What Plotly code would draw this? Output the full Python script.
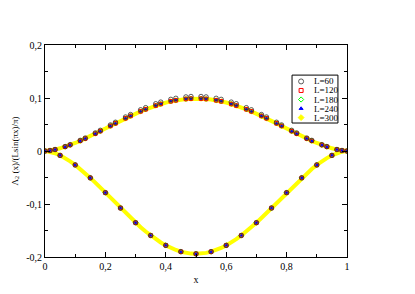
import plotly.graph_objects as go

# ---- data ----
series_names = ["L=60", "L=120", "L=180", "L=240", "L=300"]
x_grid = [k / 60 for k in range(61)]

# upper branch (band, large L) for x = 0 .. 0.5 ; mirrored for 0.5 .. 1
upper_half = [0.0, 0.0009, 0.0027, 0.0051, 0.0080, 0.0114, 0.0151, 0.0192, 0.0235,
              0.0280, 0.0327, 0.0375, 0.0423, 0.0472, 0.0521, 0.0569, 0.0616, 0.0661,
              0.0705, 0.0747, 0.0786, 0.0823, 0.0857, 0.0887, 0.0914, 0.0937, 0.0956,
              0.0971, 0.0981, 0.0988, 0.0990]
# upper branch for L=60 (slightly higher)
upper60_half = [0.0, 0.0009, 0.0028, 0.0053, 0.0083, 0.0119, 0.0157, 0.0200, 0.0244,
                0.0291, 0.0340, 0.0390, 0.0440, 0.0491, 0.0542, 0.0592, 0.0641, 0.0687,
                0.0733, 0.0777, 0.0817, 0.0856, 0.0891, 0.0922, 0.0951, 0.0974, 0.0994,
                0.1010, 0.1020, 0.1028, 0.1030]
# lower branch
lower_half = [0.0, -0.0013, -0.0042, -0.0083, -0.0134, -0.0195, -0.0263, -0.0339,
              -0.0420, -0.0507, -0.0597, -0.0691, -0.0786, -0.0883, -0.0980, -0.1076,
              -0.1171, -0.1264, -0.1353, -0.1438, -0.1519, -0.1594, -0.1664, -0.1726,
              -0.1781, -0.1829, -0.1868, -0.1900, -0.1922, -0.1936, -0.1940]

upper_band = upper_half + upper_half[-2::-1]
upper_60 = upper60_half + upper60_half[-2::-1]
lower_band = lower_half + lower_half[-2::-1]

x_tick_vals = [0, 0.2, 0.4, 0.6, 0.8, 1.0]
x_tick_text = ["0", "0,2", "0,4", "0,6", "0,8", "1"]
y_tick_vals = [-0.2, -0.1, 0, 0.1, 0.2]
y_tick_text = ["-0,2", "-0,1", "0", "0,1", "0,2"]

# ---- figure ----
FONT = "Liberation Serif"
fig = go.Figure()

# L=300 drawn as a dense yellow band (lines) underneath
for branch in (upper_band, lower_band):
    fig.add_trace(go.Scatter(x=x_grid, y=branch, mode="lines",
                             line=dict(color="#ffff00", width=4),
                             showlegend=False, hoverinfo="skip"))


def branch_points(upper):
    xs, ys = [], []
    for k, xv in enumerate(x_grid):
        xs.append(xv)
        ys.append(lower_band[k] if k % 3 == 0 else upper[k])
    return xs, ys


styles = {
    "L=60": dict(symbol="circle-open", color="#333333", size=4.5, lw=0.8),
    "L=120": dict(symbol="square-open", color="#ff0000", size=3.5, lw=1),
    "L=180": dict(symbol="diamond-open", color="#00ff00", size=3.5, lw=1),
    "L=240": dict(symbol="triangle-up", color="#0000ff", size=3, lw=1),
    "L=300": dict(symbol="diamond", color="#ffff00", size=4, lw=1),
}

order = ["L=300", "L=240", "L=180", "L=120", "L=60"]
for name in order:
    st = styles[name]
    xs, ys = branch_points(upper_60 if name == "L=60" else upper_band)
    fig.add_trace(go.Scatter(
        x=xs, y=ys, mode="markers", name=name, showlegend=False,
        marker=dict(symbol=st["symbol"], color=st["color"], size=st["size"],
                    line=dict(color=st["color"], width=st["lw"])),
    ))

# ---- compact legend box (drawn in plot-area fractions on an overlay axis) ----
leg_x0, leg_x1 = 0.818, 0.970
leg_y_top, leg_y_bot = 0.858, 0.632
row_step = (leg_y_top - leg_y_bot) / 5.3
sym_x = 0.848
txt_x = 0.884
fig.add_shape(type="rect", xref="paper", yref="paper",
              x0=leg_x0, x1=leg_x1, y0=leg_y_bot, y1=leg_y_top,
              line=dict(color="#000000", width=1), fillcolor="white", layer="below")
for i, name in enumerate(series_names):
    st = styles[name]
    ry = leg_y_top - row_step * (i + 0.7)
    fig.add_trace(go.Scatter(
        x=[sym_x], y=[ry], xaxis="x2", yaxis="y2", mode="markers",
        showlegend=False, hoverinfo="skip",
        marker=dict(symbol=st["symbol"], color=st["color"], size=st["size"] + 0.5,
                    line=dict(color=st["color"], width=st["lw"])),
    ))
    fig.add_annotation(x=txt_x, y=ry, xref="paper", yref="paper", text=name,
                       showarrow=False, xanchor="left", yanchor="middle",
                       font=dict(family=FONT, size=9, color="#000000"))

axis_common = dict(
    showline=True, linecolor="#000000", linewidth=1, mirror="allticks",
    ticks="inside", ticklen=5, tickcolor="#000000", tickwidth=1,
    showgrid=False, zeroline=False, automargin=False,
    tickfont=dict(family=FONT, size=10, color="#000000"),
)

fig.update_layout(
    width=415, height=294,
    margin=dict(l=45, r=68, t=45, b=37),
    paper_bgcolor="white", plot_bgcolor="white",
    font=dict(family=FONT, size=10, color="#000000"),
    xaxis=dict(range=[0, 1], tickmode="array", tickvals=x_tick_vals,
               ticktext=x_tick_text,
               minor=dict(tickmode="linear", tick0=0, dtick=0.1, ticks="inside",
                          ticklen=3, tickcolor="#000000"),
               title=dict(text="x", font=dict(family=FONT, size=10), standoff=4),
               **axis_common),
    yaxis=dict(range=[-0.2, 0.2], tickmode="array", tickvals=y_tick_vals,
               ticktext=y_tick_text,
               minor=dict(tickmode="linear", tick0=0, dtick=0.05, ticks="inside",
                          ticklen=3, tickcolor="#000000"),
               title=dict(text="Λ<sub>2</sub> (x)/(Lsin(πx)/π)",
                          font=dict(family=FONT, size=9), standoff=6),
               **axis_common),
    xaxis2=dict(overlaying="x", range=[0, 1], visible=False, fixedrange=True),
    yaxis2=dict(overlaying="y", range=[0, 1], visible=False, fixedrange=True),
    showlegend=False,
)

fig.write_html("out.html", post_script="document.body.style.margin='0';",
               config={"displayModeBar": False})
